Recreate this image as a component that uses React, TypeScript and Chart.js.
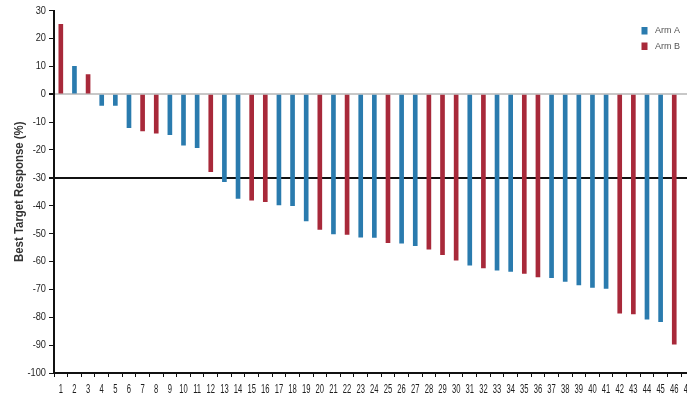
import React, { useEffect, useRef } from "react";
import { Chart, registerables } from "chart.js";

Chart.register(...registerables);

// Patient index along the x axis
const patients: string[] = Array.from({ length: 47 }, (_, i) => String(i + 1));

// Best target response (%) per patient, by treatment arm (null = other arm)
const armA: (number | null)[] = [
  null, 10, null, -4, -4, -12, null, null, -14.5, -18.3,
  -19.2, null, -31.4, -37.4, null, null, -39.7, -40, -45.5, null,
  -50.1, null, -51.3, -51.4, null, -53.4, -54.3, null, null, null,
  -61.3, null, -63.1, -63.6, null, null, -65.8, -67.2, -68.4, -69.3,
  -69.7, null, null, -80.7, -81.6, null, null,
];
const armB: (number | null)[] = [
  25, null, 7, null, null, null, -13.2, -14, null, null,
  null, -27.8, null, null, -38, -38.6, null, null, null, -48.5,
  null, -50.3, null, null, -53.3, null, null, -55.6, -57.6, -59.5,
  null, -62.3, null, null, -64.3, -65.5, null, null, null, null,
  null, -78.5, -78.8, null, null, -89.7, null,
];

const seriesNames = ["Arm A", "Arm B"];
const seriesColors = ["#2a7bae", "#a8293a"];

const yMin = -100;
const yMax = 30;
const yStep = 10;
const threshold = -30;
const yTitle = "Best Target Response (%)";

const FONT = "'Liberation Sans', Arial, sans-serif";
const CLEAR = "rgba(0,0,0,0)";

// Draws text squeezed horizontally, giving a condensed face
function condensedText(
  ctx: CanvasRenderingContext2D,
  text: string,
  x: number,
  y: number,
  squeeze: number,
  align: CanvasTextAlign,
  rotate = 0
) {
  ctx.save();
  ctx.translate(x, y);
  if (rotate) ctx.rotate(rotate);
  ctx.scale(squeeze, 1);
  ctx.textAlign = align;
  ctx.textBaseline = "middle";
  ctx.fillText(text, 0, 0);
  ctx.restore();
}

// Axis labels, axis title and a small vertical legend in condensed type
const condensedLabels = {
  id: "condensedLabels",
  afterDraw(chart: any) {
    const { ctx, chartArea } = chart;
    const xs = chart.scales.x;
    const ys = chart.scales.y;
    ctx.save();
    ctx.fillStyle = "#1e1e1e";

    ctx.font = `12.5px ${FONT}`;
    xs.ticks.forEach((t: any, i: number) => {
      condensedText(ctx, String(xs.getLabelForValue(t.value)), xs.getPixelForTick(i), xs.top + 16.5, 0.61, "center");
    });

    ctx.font = `11px ${FONT}`;
    ys.ticks.forEach((t: any, i: number) => {
      condensedText(ctx, String(t.value), ys.right - 8, ys.getPixelForTick(i), 0.84, "right");
    });

    ctx.fillStyle = "#333";
    ctx.font = `bold 12px ${FONT}`;
    condensedText(ctx, yTitle, 20, (chartArea.top + chartArea.bottom) / 2, 0.95, "center", -Math.PI / 2);

    chart.data.datasets.forEach((ds: any, i: number) => {
      const y = 27 + i * 15.5;
      ctx.fillStyle = ds.backgroundColor;
      ctx.fillRect(641.5, y, 6, 7.5);
      ctx.fillStyle = "#555";
      ctx.font = `9px ${FONT}`;
      condensedText(ctx, ds.label, 655, y + 3.8, 1, "left");
    });
    ctx.restore();
  },
};

export default function App() {
  const canvasRef = useRef<HTMLCanvasElement | null>(null);

  useEffect(() => {
    if (!canvasRef.current) return;
    const chart = new Chart(canvasRef.current, {
      type: "bar",
      data: {
        labels: patients,
        datasets: [
          {
            label: seriesNames[0],
            data: armA,
            backgroundColor: seriesColors[0],
            barThickness: 4,
            grouped: false,
          } as any,
          {
            label: seriesNames[1],
            data: armB,
            backgroundColor: seriesColors[1],
            barThickness: 4,
            grouped: false,
          } as any,
        ],
      },
      options: {
        animation: false,
        responsive: true,
        maintainAspectRatio: false,
        layout: { padding: { top: 10.5, left: 0, right: 0, bottom: 0 } },
        plugins: {
          legend: { display: false },
          tooltip: { enabled: false },
        },
        scales: {
          x: {
            offset: true,
            grid: {
              offset: true,
              drawOnChartArea: false,
              drawTicks: true,
              tickLength: 4,
              tickColor: "#111",
              color: "#111",
            },
            border: { display: true, color: "#111", width: 2 },
            ticks: {
              autoSkip: false,
              maxRotation: 0,
              minRotation: 0,
              padding: 4,
              color: CLEAR,
              font: { family: FONT, size: 11 },
            },
            afterFit(scale: any) {
              scale.height = 26;
            },
          },
          y: {
            min: yMin,
            max: yMax,
            ticks: {
              stepSize: yStep,
              padding: 3,
              color: CLEAR,
              font: { family: FONT, size: 11 },
            },
            grid: {
              drawOnChartArea: true,
              drawTicks: true,
              tickLength: 5,
              tickColor: "#111",
              color: (ctx: any) =>
                ctx.tick && ctx.tick.value === threshold
                  ? "#111"
                  : ctx.tick && ctx.tick.value === 0
                  ? "#c8c8c8"
                  : CLEAR,
              lineWidth: (ctx: any) =>
                ctx.tick && (ctx.tick.value === threshold || ctx.tick.value === 0) ? 2 : 1,
            },
            border: { display: true, color: "#111", width: 2 },
            afterFit(scale: any) {
              scale.width = 54;
            },
          },
        },
      },
      plugins: [condensedLabels],
    });
    return () => chart.destroy();
  }, []);

  return (
    <div
      style={{
        position: "fixed",
        left: 0,
        top: 0,
        width: 698,
        height: 399,
        background: "#fff",
      }}
    >
      <canvas ref={canvasRef} />
    </div>
  );
}
